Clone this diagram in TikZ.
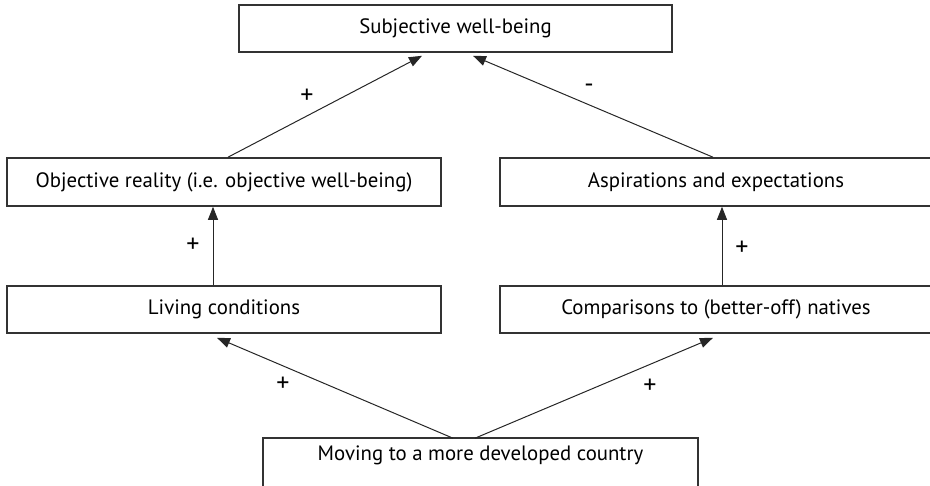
\documentclass[tikz,border=0pt]{standalone}
\usepackage{fontspec}
\setmainfont{PT Sans}
\usetikzlibrary{arrows.meta}

\tikzset{
  box/.style={draw=black!80, line width=1.6pt, rectangle, minimum width=433pt,
    minimum height=47pt, inner sep=0pt, font=\fontsize{20.8}{24}\selectfont},
  arr/.style={draw=black!85, line width=1pt, -{Triangle[length=13pt,width=10pt]}},
  sign/.style={font=\fontsize{26}{28}\selectfont, inner sep=0pt}
}

\begin{document}
\begin{tikzpicture}[x=1pt, y=-1pt]
    \useasboundingbox (0,0) rectangle (930,486);
    \clip (0,0) rectangle (930,486);
    % Boxes
    \node[box] (swb) at (455.5,28.5) {Subjective well-being};
    \node[box, minimum width=434pt, minimum height=48pt] (obj) at (224,182) {Objective reality (i.e. objective well-being)};
    \node[box, minimum width=432pt, minimum height=48pt] (asp) at (716,182) {Aspirations and expectations};
    \node[box, minimum width=434pt] (liv) at (224,309.5) {Living conditions};
    \node[box, minimum width=432pt] (cmp) at (716,309.5) {Comparisons to (better-off) natives};
    % Bottom box runs off the page
    \node[box, draw=none, minimum height=32pt] (mov) at (480.5,455) {Moving to a more developed country};
    \draw[black!80, line width=1.6pt] (mov.south west |- 0,500) -- (mov.north west)
        -- (mov.north east) -- (mov.south east |- 0,500);
    % Arrows
    \draw[arr] ([xshift=4pt]obj.north) -- ([xshift=-33.5pt,yshift=-3pt]swb.south);
    \draw[arr] ([xshift=-3pt]asp.north) -- ([xshift=17.5pt,yshift=-3pt]swb.south);
    \draw[arr] ([xshift=-11pt]liv.north) -- ([xshift=-11pt]obj.south);
    \draw[arr] ([xshift=6pt]cmp.north) -- ([xshift=6pt]asp.south);
    \draw[arr] ([xshift=-27.5pt]mov.north) -- ([xshift=-7pt,yshift=-4pt]liv.south);
    \draw[arr] ([xshift=-5.5pt]mov.north) -- ([xshift=-3pt,yshift=-4pt]cmp.south);
    % Signs
    \node[sign] (s1) at (307,96) {+};
    \node[sign] (s2) at (589,88) {-};
    \node[sign] (s3) at (193,245) {+};
    \node[sign] (s4) at (742,248) {+};
    \node[sign] (s5) at (283,384) {+};
    \node[sign] (s6) at (650,386) {+};
\end{tikzpicture}
\end{document}
